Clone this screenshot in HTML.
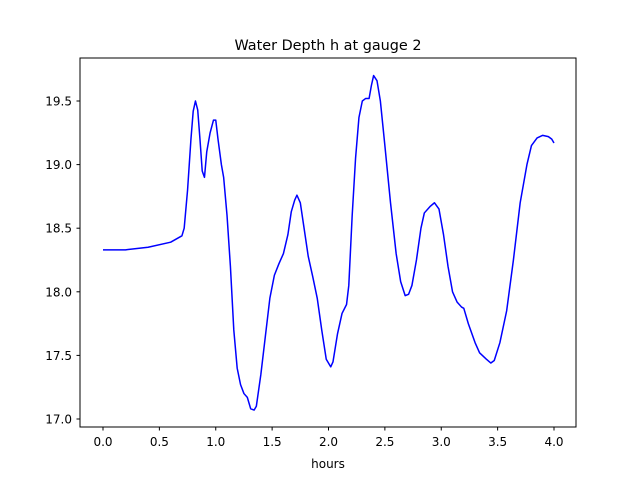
<!DOCTYPE html>
<html><head><meta charset="utf-8"><style>
body{margin:0;background:#fff;}
svg text{font-family:"DejaVu Sans","Liberation Sans",sans-serif;fill:#000;}
</style></head><body>
<svg id="chart" width="640" height="480" viewBox="0 0 640 480">
<rect width="640" height="480" fill="#fff"/>
<text x="328" y="50" font-size="14.4" text-anchor="middle">Water Depth h at gauge 2</text>
<g id="xticks"></g>
<g id="yticks"></g>
<text x="328" y="468" font-size="12" text-anchor="middle">hours</text>
<rect x="80" y="58" width="496" height="369" fill="none" stroke="#000" stroke-width="1"/>
</svg>
<script>
const xTicks=[0,0.5,1,1.5,2,2.5,3,3.5,4];
const xTickLabels=["0.0","0.5","1.0","1.5","2.0","2.5","3.0","3.5","4.0"];
const yTicks=[17,17.5,18,18.5,19,19.5];
const yTickLabels=["17.0","17.5","18.0","18.5","19.0","19.5"];
const hours=[0,0.2,0.4,0.6,0.7,0.72,0.75,0.78,0.8,0.82,0.84,0.86,0.88,0.9,0.92,0.95,0.98,1.0,1.02,1.05,1.07,1.1,1.13,1.16,1.19,1.22,1.25,1.28,1.31,1.34,1.36,1.4,1.44,1.48,1.52,1.56,1.6,1.64,1.67,1.7,1.72,1.75,1.78,1.82,1.86,1.9,1.94,1.98,2.02,2.04,2.08,2.12,2.16,2.18,2.21,2.24,2.27,2.3,2.33,2.36,2.38,2.4,2.43,2.46,2.5,2.55,2.6,2.64,2.68,2.71,2.74,2.78,2.82,2.85,2.9,2.94,2.98,3.02,3.06,3.1,3.14,3.18,3.2,3.24,3.3,3.34,3.4,3.44,3.47,3.52,3.58,3.64,3.7,3.76,3.8,3.85,3.9,3.95,3.98,4.0];
const depth=[18.33,18.33,18.35,18.39,18.44,18.5,18.8,19.2,19.42,19.5,19.43,19.2,18.95,18.9,19.1,19.25,19.35,19.35,19.2,19.0,18.9,18.6,18.2,17.7,17.4,17.27,17.2,17.17,17.08,17.07,17.1,17.35,17.65,17.95,18.13,18.22,18.3,18.45,18.63,18.72,18.76,18.7,18.52,18.28,18.12,17.95,17.7,17.47,17.41,17.45,17.67,17.83,17.9,18.05,18.6,19.05,19.37,19.5,19.52,19.52,19.62,19.7,19.66,19.5,19.15,18.7,18.3,18.08,17.97,17.98,18.05,18.25,18.5,18.62,18.67,18.7,18.65,18.45,18.2,18.0,17.92,17.88,17.87,17.75,17.6,17.52,17.47,17.44,17.46,17.6,17.85,18.25,18.7,19.0,19.15,19.21,19.23,19.22,19.2,19.17];
const NS="http://www.w3.org/2000/svg";
const sx=v=>103+v*112.75;
const sy=v=>419-(v-17)*127.2;
const svg=document.getElementById('chart');
const xg=document.getElementById('xticks'), yg=document.getElementById('yticks');
xTicks.forEach((t,i)=>{
 const l=document.createElementNS(NS,'line');
 
 
 l.setAttribute('x1',sx(t));l.setAttribute('x2',sx(t));l.setAttribute('y1',427);l.setAttribute('y2',430.5);l.setAttribute('stroke','#000');
 xg.appendChild(l);
 const tx=document.createElementNS(NS,'text');
 
 
 tx.setAttribute('x',sx(t));tx.setAttribute('y',446);tx.setAttribute('font-size','12');tx.setAttribute('text-anchor','middle');
 tx.textContent=xTickLabels[i];xg.appendChild(tx);
});
yTicks.forEach((t,i)=>{
 const l=document.createElementNS(NS,'line');
 
 
 l.setAttribute('x1',76.5);l.setAttribute('x2',80);l.setAttribute('y1',sy(t));l.setAttribute('y2',sy(t));l.setAttribute('stroke','#000');
 yg.appendChild(l);
 const tx=document.createElementNS(NS,'text');
 
 
 tx.setAttribute('x',72);tx.setAttribute('y',sy(t)+4.5);tx.setAttribute('font-size','12');tx.setAttribute('text-anchor','end');
 tx.textContent=yTickLabels[i];yg.appendChild(tx);
});
const p=document.createElementNS(NS,'polyline');


p.setAttribute('points',hours.map((h,i)=>sx(h)+','+sy(depth[i])).join(' '));
p.setAttribute('fill','none');p.setAttribute('stroke','#0000ff');p.setAttribute('stroke-width','1.5');p.setAttribute('stroke-linejoin','round');
svg.appendChild(p);
</script>
</body></html>
